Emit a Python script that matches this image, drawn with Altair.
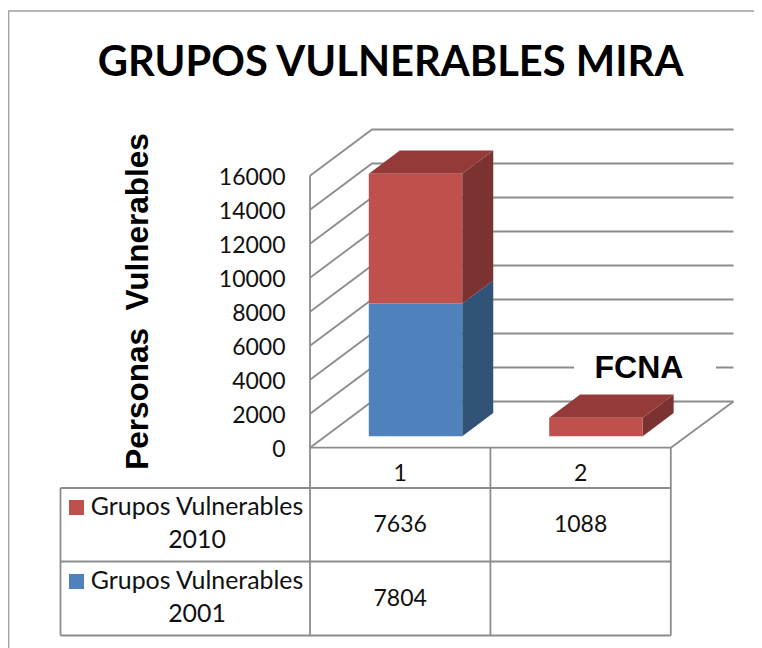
import altair as alt
import pandas as pd

# ---- values ----
categories = [1, 2]
series_2001 = [7804, None]
series_2010 = [7636, 1088]
y_ticks = [0, 2000, 4000, 6000, 8000, 10000, 12000, 14000, 16000]
title_text = "GRUPOS VULNERABLES MIRA"
axis_title = "Personas\u00a0\u00a0Vulnerables"
sub_label = "FCNA"
legend_rows = [("Grupos Vulnerables", "2010"), ("Grupos Vulnerables", "2001")]

RED, BLUE = "#C0504D", "#4F81BD"
RED_TOP = "#943A38"
RED_SIDE, BLUE_SIDE = "#7B3231", "#325378"
GRID = "#8C8C8C"
TEXT_SANS = "Lato"
HEAD_SANS = "Liberation Sans"

W, H = 746, 640
X0, X1 = 310.0, 490.4
Y0, Y16 = 447.7, 175.7
upx = 1 / (X1 - X0)
vpx = 16000 / (Y0 - Y16)
def ux(px): return (px - X0) * upx
def vy(py): return (Y0 - py) * vpx

x_scale = alt.Scale(domain=[ux(8), ux(8 + W)], range=[0, W], nice=False, zero=False)
y_scale = alt.Scale(domain=[vy(8 + H), vy(8)], range=[H, 0], nice=False, zero=False)
X = lambda f="x": alt.X(f, type="quantitative", scale=x_scale, axis=None)
Y = lambda f="y": alt.Y(f, type="quantitative", scale=y_scale, axis=None, stack=None)

DEPTH_U = 62.0 * upx
DEPTH_V = 46.2 * vpx
GAP, BAR_W = 0.24, 0.518
D0, D1 = 0.25, 0.75

lines = []
def poly(name, pts):
    for i, (a, b) in enumerate(pts):
        lines.append(dict(id=name, o=i, x=a, y=b))

for t in y_ticks:
    poly(f"g{t}", [(0, t), (DEPTH_U, t + DEPTH_V), (ux(733.5), t + DEPTH_V)])
poly("floorR", [(2, 0), (ux(733.5), DEPTH_V)])
poly("floorF", [(0, 0), (2, 0)])
poly("left", [(0, 16000), (0, vy(635.5))])
poly("c1", [(1, 0), (1, vy(635.5))])
poly("c2", [(2, 0), (2, vy(635.5))])
for name, py in [("r1", 488), ("r2", 561.5), ("r3", 635.5)]:
    poly(name, [(ux(60.5), vy(py)), (2, vy(py))])
poly("tl", [(ux(60.5), vy(488)), (ux(60.5), vy(635.5))])

frame = []
for i, (a, b) in enumerate([(8.5, 648), (8.5, 11), (754, 11)]):
    frame.append(dict(id="f", o=i, x=ux(a), y=vy(b)))

front, side, top = [], [], []
for i, c in enumerate(categories):
    base = 0
    x0 = (c - 1) + GAP + D0 * DEPTH_U
    x1 = x0 + BAR_W
    b0 = D0 * DEPTH_V
    bd_u = (D1 - D0) * DEPTH_U
    bd_v = (D1 - D0) * DEPTH_V
    stack = [(series_2001[i], BLUE, BLUE_SIDE), (series_2010[i], RED, RED_SIDE)]
    for j, (val, col, scol) in enumerate(stack):
        if val is None:
            continue
        lo, hi = b0 + base, b0 + base + val
        front.append(dict(x=x0, x2=x1, y=lo, y2=hi, c=col))
        k = f"s{i}-{j}"
        side.append(dict(id=k, x=x1, y=lo, y2=hi, c=scol))
        side.append(dict(id=k, x=x1 + bd_u, y=lo + bd_v, y2=hi + bd_v, c=scol))
        base += val
    k = f"t{i}"
    top.append(dict(id=k, y=b0 + base, x=x0, x2=x1, c=RED_TOP))
    top.append(dict(id=k, y=b0 + base + bd_v, x=x0 + bd_u, x2=x1 + bd_u, c=RED_TOP))

color_id = alt.Color("c:N", scale=None, legend=None)

grid_layer = alt.Chart(pd.DataFrame(lines)).mark_line(color=GRID, strokeWidth=1.8).encode(
    x=X(), y=Y(), detail="id:N", order="o:Q")
frame_layer = alt.Chart(pd.DataFrame(frame)).mark_line(color="#A0A0A0", strokeWidth=1.6).encode(
    x=X(), y=Y(), detail="id:N", order="o:Q")

front_layer = alt.Chart(pd.DataFrame(front)).mark_rect().encode(
    x=X(), x2="x2:Q", y=Y(), y2="y2:Q", color=color_id)
side_layer = alt.Chart(pd.DataFrame(side)).mark_area(orient="vertical").encode(
    x=X(), y=Y(), y2=alt.Y2("y2:Q"), fill=alt.Fill("c:N", scale=None, legend=None), detail="id:N")
top_layer = alt.Chart(pd.DataFrame(top)).mark_area(orient="horizontal").encode(
    y=Y(), x=X(), x2=alt.X2("x2:Q"), fill=alt.Fill("c:N", scale=None, legend=None), detail="id:N")

patch = alt.Chart(pd.DataFrame([dict(x=ux(574), x2=ux(716), y=vy(352), y2=vy(384))])).mark_rect(color="white").encode(
    x=X(), x2="x2:Q", y=Y(), y2="y2:Q")

sw = pd.DataFrame([
    dict(x=ux(69), x2=ux(84), y=vy(500), y2=vy(515), c=RED),
    dict(x=ux(69), x2=ux(84), y=vy(574), y2=vy(589), c=BLUE),
])
swatch = alt.Chart(sw).mark_rect().encode(x=X(), x2="x2:Q", y=Y(), y2="y2:Q", color=color_id)

def texts(rows, **kw):
    return alt.Chart(pd.DataFrame(rows)).mark_text(baseline="alphabetic", **kw).encode(x=X(), y=Y(), text="t:N")

tick_rows = [dict(x=ux(285.5), y=t - 9 * vpx, t=str(t)) for t in y_ticks]
tick_text = texts(tick_rows, font=TEXT_SANS, fontSize=23, align="right", color="#111111")

cat_rows = [dict(x=c - 0.5, y=vy(481), t=str(c)) for c in categories]
cell_rows = []
for c, a, b in zip(categories, series_2010, series_2001):
    cell_rows.append(dict(x=c - 0.5, y=vy(532.3), t=str(a)))
    if b is not None:
        cell_rows.append(dict(x=c - 0.5, y=vy(606), t=str(b)))
tbl_text = texts(cat_rows + cell_rows, font=TEXT_SANS, fontSize=23, align="center", color="#111111")

leg_rows = [
    dict(x=ux(197), y=vy(515), t=legend_rows[0][0]),
    dict(x=ux(197), y=vy(547.7), t=legend_rows[0][1]),
    dict(x=ux(197), y=vy(589.3), t=legend_rows[1][0]),
    dict(x=ux(197), y=vy(621.7), t=legend_rows[1][1]),
]
leg_text = texts(leg_rows, font=TEXT_SANS, fontSize=24.9, align="center", color="#111111")

title_layer = texts([dict(x=ux(390.5), y=vy(76), t=title_text)], font=TEXT_SANS, fontSize=41.7, fontWeight="bold",
                    align="center", color="black")
fcna = texts([dict(x=ux(639), y=vy(378), t=sub_label)], font=HEAD_SANS, fontSize=32, fontWeight="bold",
             align="center", color="black")
ytitle = texts([dict(x=ux(148), y=vy(301.5), t=axis_title)], font=HEAD_SANS, fontSize=31.5, fontWeight="bold",
               align="center", angle=270, color="black")

chart = alt.layer(
    frame_layer, grid_layer, patch, side_layer, top_layer, front_layer, swatch,
    tick_text, tbl_text, leg_text, title_layer, fcna, ytitle,
).properties(width=W, height=H, padding=0, autosize=alt.AutoSizeParams(type="none")
).configure_view(stroke=None)

chart.save("out.html", embed_options={"renderer": "svg", "actions": False})
